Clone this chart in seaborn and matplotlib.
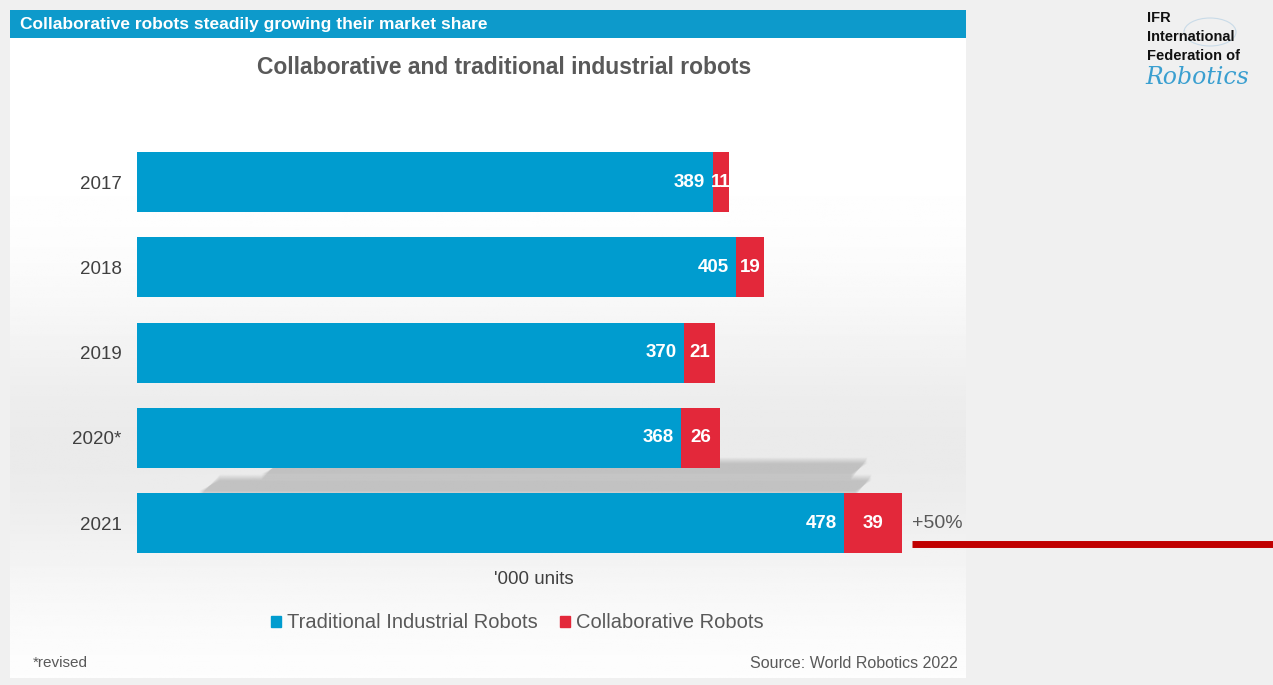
import matplotlib
matplotlib.use("Agg")
import matplotlib.pyplot as plt
import matplotlib.patches as mpatches
from matplotlib import font_manager
import numpy as np
import pandas as pd
import seaborn as sns

# data
years = ["2017", "2018", "2019", "2020*", "2021"]
traditional = [389, 405, 370, 368, 478]
collaborative = [11, 19, 21, 26, 39]
growth_label = "+50%"

BLUE = "#009CCF"
RED = "#E3283A"
GREY_TXT = "#595959"
W, H = 1273, 685

sns.set_theme(style="white")
plt.rcParams["font.family"] = ["Liberation Sans", "DejaVu Sans"]
names = set(font_manager.get_font_names())
NARROW = "Liberation Sans Narrow" if "Liberation Sans Narrow" in names else "Liberation Sans"

df = pd.DataFrame({"year": years, "traditional": traditional, "collaborative": collaborative})
df["total"] = df["traditional"] + df["collaborative"]


def px(x, y):
    return x / W, 1 - y / H


fig = plt.figure(figsize=(W / 100, H / 100), dpi=100)
fig.patch.set_facecolor("#f0f0f0")

# white panel with soft grey band behind the bars
bg = fig.add_axes([10 / W, 1 - 678 / H, 956 / W, 668 / H])
rows = np.linspace(0, 1, 300)
shade = 1 - 0.08 * np.exp(-((rows - 0.66) / 0.22) ** 2)
grad = np.tile(shade[:, None], (1, 10))
bg.imshow(grad, cmap="gray", vmin=0, vmax=1, aspect="auto", extent=[0, 1, 1, 0])
bg.set_xlim(0, 1)
bg.set_ylim(1, 0)
bg.axis("off")

# header bar
fig.patches.append(mpatches.Rectangle(px(10, 38), 956 / W, 28 / H, transform=fig.transFigure,
                                      facecolor="#0D9ACB", edgecolor="none", zorder=1))
fig.text(*px(20, 25), "Collaborative robots steadily growing their market share",
         color="white", fontsize=12.5, fontweight="bold", va="center", ha="left", zorder=2)
fig.text(*px(504, 67), "Collaborative and traditional industrial robots",
         color=GREY_TXT, fontsize=16.5, fontweight="bold", ha="center", va="center")

# bar chart axes
ax_top, ax_bot = 139.4, 565.9
ax = fig.add_axes([137 / W, 1 - ax_bot / H, 830 / W, (ax_bot - ax_top) / H])
ax.patch.set_alpha(0)
XMAX = 561

# soft shadows between the last two bars
for yc, x0, x1 in [(3.36, 0.15, 0.88), (3.56, 0.075, 0.885)]:
    for k in range(8):
        grow = k * 0.01
        poly = mpatches.Polygon(
            [((x0 + 0.025) * XMAX, yc - 0.06 - grow), (x1 * XMAX, yc - 0.06 - grow),
             ((x1 - 0.02) * XMAX, yc + 0.06 + grow), (x0 * XMAX, yc + 0.06 + grow)],
            closed=True, facecolor="#808080", edgecolor="none", alpha=0.055, zorder=0.5)
        ax.add_patch(poly)

sns.barplot(data=df, x="total", y="year", color=RED, orient="h", width=0.7,
            saturation=1, linewidth=0, ax=ax, zorder=2)
sns.barplot(data=df, x="traditional", y="year", color=BLUE, orient="h", width=0.7,
            saturation=1, linewidth=0, ax=ax, zorder=3)

for i, row in df.iterrows():
    ax.text(row["traditional"] - 5, i, str(row["traditional"]), color="white", fontsize=13.5,
            fontweight="bold", family=NARROW, ha="right", va="center", zorder=4)
    ax.text(row["traditional"] + row["collaborative"] / 2, i, str(row["collaborative"]),
            color="white", fontsize=13.5, fontweight="bold", family=NARROW,
            ha="center", va="center", zorder=4)

last = df.index[-1]
ax.text(df["total"].iloc[-1] + 7, last, growth_label, color=GREY_TXT, fontsize=14,
        ha="left", va="center", zorder=4)

ax.set_xlim(0, XMAX)
ax.set_ylim(4.5, -0.5)
ax.set_xlabel("")
ax.set_ylabel("")
ax.set_xticks([])
ax.tick_params(axis="y", length=0, pad=11, labelsize=13.5, labelcolor="#404040")
sns.despine(ax=ax, left=True, bottom=True)

# red underline running off to the right
fig.add_artist(plt.Line2D([912 / W, 1.0], [1 - 544 / H] * 2, transform=fig.transFigure,
                          color="#C00000", linewidth=5, solid_capstyle="butt"))

fig.text(*px(534, 580), "'000 units", color="#404040", fontsize=13.5, ha="center", va="center")

handles = [mpatches.Patch(color=BLUE, label="Traditional Industrial Robots"),
           mpatches.Patch(color=RED, label="Collaborative Robots")]
leg = fig.legend(handles=handles, loc="center", bbox_to_anchor=px(517, 623), ncol=2,
                 frameon=False, fontsize=14.5, handlelength=0.5, handleheight=0.5,
                 handletextpad=0.3, columnspacing=1.1)
for t in leg.get_texts():
    t.set_color(GREY_TXT)

fig.text(*px(33, 663), "*revised", color=GREY_TXT, fontsize=11, ha="left", va="center")
fig.text(*px(958, 663), "Source: World Robotics 2022", color=GREY_TXT, fontsize=11.5,
         ha="right", va="center")

# IFR logo
globe = mpatches.Circle(px(1210, 32), 26 / W, transform=fig.transFigure, fill=False,
                        edgecolor="#c9dbe8", linewidth=0.8)
fig.patches.append(globe)
for i, txt in enumerate(["IFR", "International", "Federation of"]):
    fig.text(*px(1147, 18 + i * 19), txt, color="#111111", fontsize=10.5,
             fontweight="bold", ha="left", va="center")
fig.text(*px(1145, 78), "Robotics", color="#3A9FD0", fontsize=17, style="italic",
         family=["DejaVu Serif"], ha="left", va="center")

fig.savefig("out.png", dpi=100, facecolor=fig.get_facecolor())
